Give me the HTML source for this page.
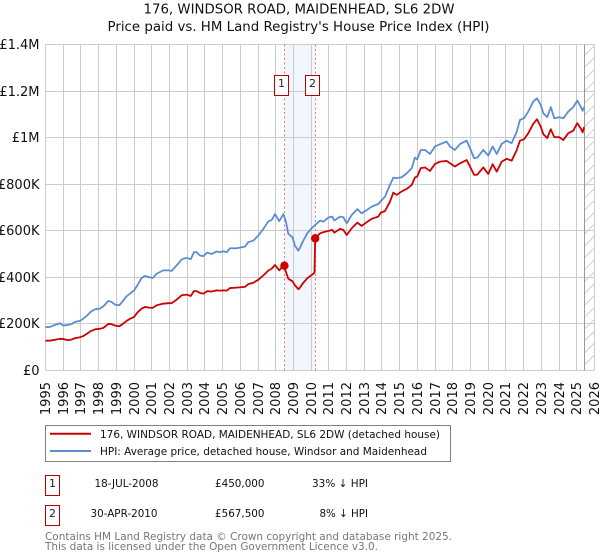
<!DOCTYPE html>
<html lang="en">
<head>
<meta charset="utf-8">
<title>176, Windsor Road price paid vs. HPI</title>
<style>
html,body{margin:0;padding:0;background:#fff;width:600px;height:560px;overflow:hidden}
svg{display:block;font-family:"DejaVu Sans","Liberation Sans",sans-serif}
</style>
</head>
<body>
<svg id="chart" width="600" height="560" viewBox="0 0 600 560" xmlns="http://www.w3.org/2000/svg">
  <rect x="0" y="0" width="600" height="560" fill="#ffffff"/>
  <text x="143.5" y="13.5" font-size="13" textLength="311" lengthAdjust="spacingAndGlyphs" fill="#111">176, WINDSOR ROAD, MAIDENHEAD, SL6 2DW</text>
  <text x="107.5" y="31" font-size="13" textLength="382" lengthAdjust="spacingAndGlyphs" fill="#111">Price paid vs. HM Land Registry's House Price Index (HPI)</text>
  <g id="plot"></g>

  <g>
    <rect x="45.5" y="425.5" width="405" height="36" fill="#fff" stroke="#808080"/>
    <line x1="50" x2="91" y1="433.7" y2="433.7" stroke="#cc0000" stroke-width="2"/>
    <text x="100" y="438" font-size="11" textLength="340" lengthAdjust="spacingAndGlyphs" fill="#111">176, WINDSOR ROAD, MAIDENHEAD, SL6 2DW (detached house)</text>
    <line x1="50" x2="91" y1="451" y2="451" stroke="#5b8dd2" stroke-width="2"/>
    <text x="100" y="455" font-size="11" textLength="327" lengthAdjust="spacingAndGlyphs" fill="#111">HPI: Average price, detached house, Windsor and Maidenhead</text>
  </g>

  <g font-size="11" fill="#111">
    <rect x="45.5" y="475.5" width="14" height="20" fill="#fff" stroke="#bb0000"/>
    <text x="52.5" y="487" text-anchor="middle" fill="#222">1</text>
    <text x="94.5" y="487" textLength="64" lengthAdjust="spacingAndGlyphs">18-JUL-2008</text>
    <text x="215" y="487" textLength="49.5" lengthAdjust="spacingAndGlyphs">£450,000</text>
    <text x="312" y="487" textLength="56" lengthAdjust="spacingAndGlyphs">33% ↓ HPI</text>
  </g>
  <g font-size="11" fill="#111">
    <rect x="45.5" y="505.5" width="14" height="20" fill="#fff" stroke="#bb0000"/>
    <text x="52.5" y="517" text-anchor="middle" fill="#222">2</text>
    <text x="90.5" y="517" textLength="67" lengthAdjust="spacingAndGlyphs">30-APR-2010</text>
    <text x="215" y="517" textLength="49.5" lengthAdjust="spacingAndGlyphs">£567,500</text>
    <text x="319.5" y="517" textLength="48.5" lengthAdjust="spacingAndGlyphs">8% ↓ HPI</text>
  </g>

  <text x="45" y="540" font-size="11" textLength="407" lengthAdjust="spacingAndGlyphs" fill="#777">Contains HM Land Registry data © Crown copyright and database right 2025.</text>
  <text x="45" y="550" font-size="11" textLength="333" lengthAdjust="spacingAndGlyphs" fill="#777">This data is licensed under the Open Government Licence v3.0.</text>
</svg>
<script>
const yearTicks = [1995,1996,1997,1998,1999,2000,2001,2002,2003,2004,2005,2006,2007,2008,2009,2010,2011,2012,2013,2014,2015,2016,2017,2018,2019,2020,2021,2022,2023,2024,2025,2026];
const valueTicks = [0,200,400,600,800,1000,1200,1400];
const valueTickLabels = ["£0","£200K","£400K","£600K","£800K","£1M","£1.2M","£1.4M"];

const dates = [1995.0,1995.25,1995.54,1995.82,1996.0,1996.29,1996.48,1996.67,1996.95,1997.14,1997.36,1997.55,1997.8,1998.08,1998.27,1998.55,1998.74,1998.92,1999.17,1999.4,1999.58,1999.77,2000.0,2000.19,2000.43,2000.62,2000.84,2001.05,2001.28,2001.65,2001.94,2002.12,2002.4,2002.69,2002.97,2003.2,2003.38,2003.54,2003.72,2003.91,2004.14,2004.38,2004.66,2004.85,2005.04,2005.23,2005.42,2005.79,2006.26,2006.45,2006.74,2007.02,2007.3,2007.59,2007.77,2007.96,2008.2,2008.43,2008.58,2008.71,2008.95,2009.08,2009.27,2009.31,2009.54,2009.78,2010.03,2010.19,2010.23,2010.5,2010.69,2010.97,2011.19,2011.31,2011.63,2011.82,2012.01,2012.29,2012.61,2012.85,2013.14,2013.42,2013.79,2013.94,2014.17,2014.45,2014.64,2014.83,2015.11,2015.4,2015.68,2015.86,2015.99,2016.19,2016.43,2016.71,2016.99,2017.28,2017.65,2017.84,2018.12,2018.41,2018.78,2018.97,2019.2,2019.38,2019.72,2020.0,2020.25,2020.48,2020.76,2021.04,2021.32,2021.61,2021.79,2022.02,2022.26,2022.54,2022.75,2022.96,2023.11,2023.33,2023.53,2023.73,2024.01,2024.24,2024.52,2024.8,2025.03,2025.22,2025.33,2025.41];

const hpiValues = [186,187,196,203,193,196,200,209,213,223,237,252,263,266,276,299,294,283,280,302,319,330,344,366,398,406,401,397,416,430,430,428,451,477,484,478,508,508,494,491,507,500,511,508,512,508,525,525,532,551,558,580,608,641,646,672,641,672,637,587,572,537,515,518,555,589,611,622,625,644,639,657,661,644,661,658,632,668,693,675,689,704,715,728,747,797,828,826,830,847,869,914,907,947,947,930,962,972,983,962,947,973,987,955,912,914,947,923,962,930,973,987,976,1026,1076,1083,1112,1155,1169,1141,1105,1088,1131,1083,1088,1083,1112,1131,1159,1133,1115,1131];

const priceValues = [128,128,132,136,135,130,133,139,143,148,159,169,177,179,183,200,199,193,190,202,213,222,230,249,266,273,270,269,280,287,289,289,304,323,326,320,341,341,333,330,341,339,344,343,344,343,354,356,359,371,377,390,408,430,437,453,430,450,423,394,383,366,350,350,375,396,410,420,567.5,589,594,599,604,592,608,604,582,611,635,621,637,651,661,678,685,725,764,754,769,780,797,829,833,869,872,857,887,897,900,890,876,890,904,876,840,841,872,844,886,854,897,909,901,947,987,993,1019,1059,1079,1048,1015,998,1036,1002,1002,990,1019,1030,1062,1040,1023,1045];

const saleDates = [2008.49,2010.23];
const saleValues = [450,567.5];
const saleLabels = ["1","2"];
const dataEndDate = 2025.45;

const SVGNS = 'http://www.w3.org/2000/svg';
const plot = document.getElementById('plot');
const plotLeft = 45.5, plotRight = 594.5, plotTop = 44.5, plotBottom = 370.5;

function xScale(year){ return plotLeft + (year - 1995) * 17.71; }
function yScale(v){ return plotBottom - v * (plotBottom - plotTop) / 1400; }
function snap(p){ return Math.floor(p) + 0.5; }
function make(tag, attrs, parent){
  const el = document.createElementNS(SVGNS, tag);
  for (const k in attrs) el.setAttribute(k, attrs[k]);
  (parent || plot).appendChild(el);
  return el;
}

// shaded period between the two sales
const band = make('rect', {x: xScale(saleDates[0]), y: plotTop, width: xScale(saleDates[1]) - xScale(saleDates[0]), height: plotBottom - plotTop, fill: '#f2f6fd'});



// horizontal grid and y tick labels
valueTicks.forEach(function(v, i){
  const y = snap(yScale(v));
  const g = make('line', {x1: plotLeft, x2: plotRight, y1: y, y2: y, stroke: '#cccccc', 'stroke-width': 1});
  
  
  const t = make('text', {x: 39.5, y: y + 4.5, 'font-size': 13, 'text-anchor': 'end', fill: '#111'});
  
  
  t.textContent = valueTickLabels[i];
});

// vertical grid and x tick labels
yearTicks.forEach(function(yr){
  const x = snap(xScale(yr));
  const g = make('line', {x1: x, x2: x, y1: plotTop, y2: plotBottom, stroke: '#cccccc', 'stroke-width': 1});
  
  
  const t = make('text', {'font-size': 13, 'text-anchor': 'end', fill: '#111', transform: 'translate(' + (x + 4.5) + ',382) rotate(-90)'});
  
  
  t.textContent = String(yr);
});

// hatched region after the last data date
const endX = snap(xScale(dataEndDate));
const hatch = make('g', {});


for (let y0 = plotTop + 11; y0 <= plotBottom + 1; y0 += 11.9) {
  const h = make('line', {x1: endX, y1: y0, x2: plotRight, y2: Math.max(plotTop, y0 - (plotRight - endX)), stroke: '#cccccc', 'stroke-width': 1}, hatch);
  
  
}
const endLine = make('line', {x1: endX, x2: endX, y1: plotTop, y2: plotBottom, stroke: '#999999', 'stroke-width': 1});



// sale date markers
saleDates.forEach(function(d){
  const x = snap(xScale(d));
  const l = make('line', {x1: x, x2: x, y1: plotTop, y2: plotBottom, stroke: '#f07080', 'stroke-width': 1, 'stroke-dasharray': '2 2.5'});
  
  
});

function linePath(values){
  return values.map(function(v, i){
    return (i ? 'L' : 'M') + xScale(dates[i]).toFixed(2) + ' ' + yScale(v).toFixed(2);
  }).join('');
}

const hpiLine = make('path', {d: linePath(hpiValues), fill: 'none', stroke: '#5b8dd2', 'stroke-width': 1.8, 'stroke-linejoin': 'round'});



const priceLine = make('path', {d: linePath(priceValues), fill: 'none', stroke: '#cc0000', 'stroke-width': 1.8, 'stroke-linejoin': 'round'});



saleDates.forEach(function(d, i){
  const x = xScale(d), y = yScale(saleValues[i]);
  const c = make('circle', {cx: x, cy: y, r: 4.2, fill: '#cc0000'});
  
  
  const bx = snap(x) - 10;
  const b = make('rect', {x: bx, y: 75.5, width: 14, height: 20, fill: '#ffffff', stroke: '#bb0000', 'stroke-width': 1});
  
  
  const t = make('text', {x: bx + 7, y: 87, 'font-size': 11, 'text-anchor': 'middle', fill: '#222'});
  
  
  t.textContent = saleLabels[i];
});
</script>
</body>
</html>
